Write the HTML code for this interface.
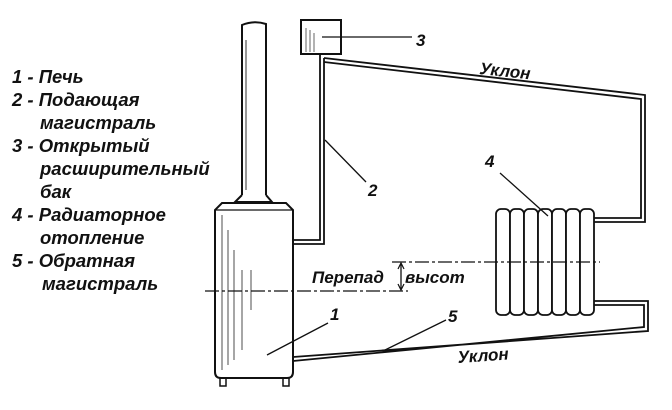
<!DOCTYPE html>
<html><head><meta charset="utf-8"><style>
body{margin:0;background:#fff}
svg text{font-family:"Liberation Sans",sans-serif;font-weight:bold;font-style:italic;fill:#111}
</style></head><body>
<svg width="672" height="405" viewBox="0 0 672 405" xmlns="http://www.w3.org/2000/svg">
<g font-size="18.5">
<text x="12" y="83">1 - Печь</text>
<text x="12" y="106">2 - Подающая</text>
<text x="40" y="129">магистраль</text>
<text x="12" y="152">3 - Открытый</text>
<text x="40" y="175">расширительный</text>
<text x="40" y="198">бак</text>
<text x="12" y="221">4 - Радиаторное</text>
<text x="40" y="244">отопление</text>
<text x="12" y="267">5 - Обратная</text>
<text x="42" y="290">магистраль</text>
</g>
<g stroke="#111" fill="none" stroke-width="2">
<path d="M242 195 V25 Q254 20 266 24 V195"/>
<path d="M242 195 L235 202 H272 L266 195" fill="#fff"/>
<line x1="246" y1="40" x2="246" y2="190" stroke-width="1.5" stroke="#777"/>
<path d="M222 203 H286 L293 210 V372 Q293 378 287 378 H221 Q215 378 215 372 V210 Z" fill="#fff"/>
<line x1="215" y1="210" x2="293" y2="210" stroke-width="1.2"/>
<path d="M220 378 V386 H226 V378 M283 378 V386 H289 V378" stroke-width="1.5"/>
<g stroke="#888" stroke-width="1.5"><line x1="222" y1="215" x2="222" y2="370"/><line x1="228" y1="230" x2="228" y2="365"/><line x1="234" y1="250" x2="234" y2="360"/><line x1="242" y1="270" x2="242" y2="350"/><line x1="251" y1="270" x2="251" y2="310"/></g>
<rect x="301" y="20" width="40" height="34" fill="#fff"/>
<g stroke="#888" stroke-width="1.3"><line x1="306" y1="28" x2="306" y2="52"/><line x1="310" y1="30" x2="310" y2="52"/><line x1="314" y1="33" x2="314" y2="52"/></g>
<path d="M293 240 H320 V54 M293 244 H324 V58" stroke-width="1.8"/>
<path d="M324 58 L645 95 V222 H594 M324 62 L641 99 V218 H594" stroke-width="1.8"/>
<path d="M594 301 H648 V331 L293 357 M594 305 H644 V327 L293 361" stroke-width="1.8"/>
<g fill="#fff" stroke-width="1.8">
<rect x="496" y="209" width="14" height="106" rx="5"/>
<rect x="510" y="209" width="14" height="106" rx="5"/>
<rect x="524" y="209" width="14" height="106" rx="5"/>
<rect x="538" y="209" width="14" height="106" rx="5"/>
<rect x="552" y="209" width="14" height="106" rx="5"/>
<rect x="566" y="209" width="14" height="106" rx="5"/>
<rect x="580" y="209" width="14" height="106" rx="5"/>
</g>
<line x1="205" y1="291" x2="408" y2="291" stroke-width="1.3" stroke-dasharray="14 3 3 3"/>
<line x1="392" y1="262" x2="600" y2="262" stroke-width="1.3" stroke-dasharray="14 3 3 3"/>
<line x1="401" y1="264" x2="401" y2="289" stroke-width="1.3"/>
<path d="M398 269 L401 263 L404 269 M398 284 L401 290 L404 284" stroke-width="1.2"/>
<g stroke-width="1.3">
<line x1="322" y1="37" x2="412" y2="37"/>
<line x1="325" y1="140" x2="366" y2="182"/>
<line x1="267" y1="355" x2="328" y2="323"/>
<line x1="383" y1="351" x2="446" y2="320"/>
<line x1="500" y1="173" x2="548" y2="216"/>
</g>
</g>
<g font-size="17">
<text x="416" y="46">3</text>
<text x="368" y="196">2</text>
<text x="330" y="320">1</text>
<text x="448" y="322">5</text>
<text x="485" y="167">4</text>
<text x="312" y="283">Перепад</text>
<text x="405" y="283">высот</text>
<text x="479" y="74" transform="rotate(6 479 74)">Уклон</text>
<text x="458" y="363" transform="rotate(-4 458 363)">Уклон</text>
</g>
</svg>
</body></html>
